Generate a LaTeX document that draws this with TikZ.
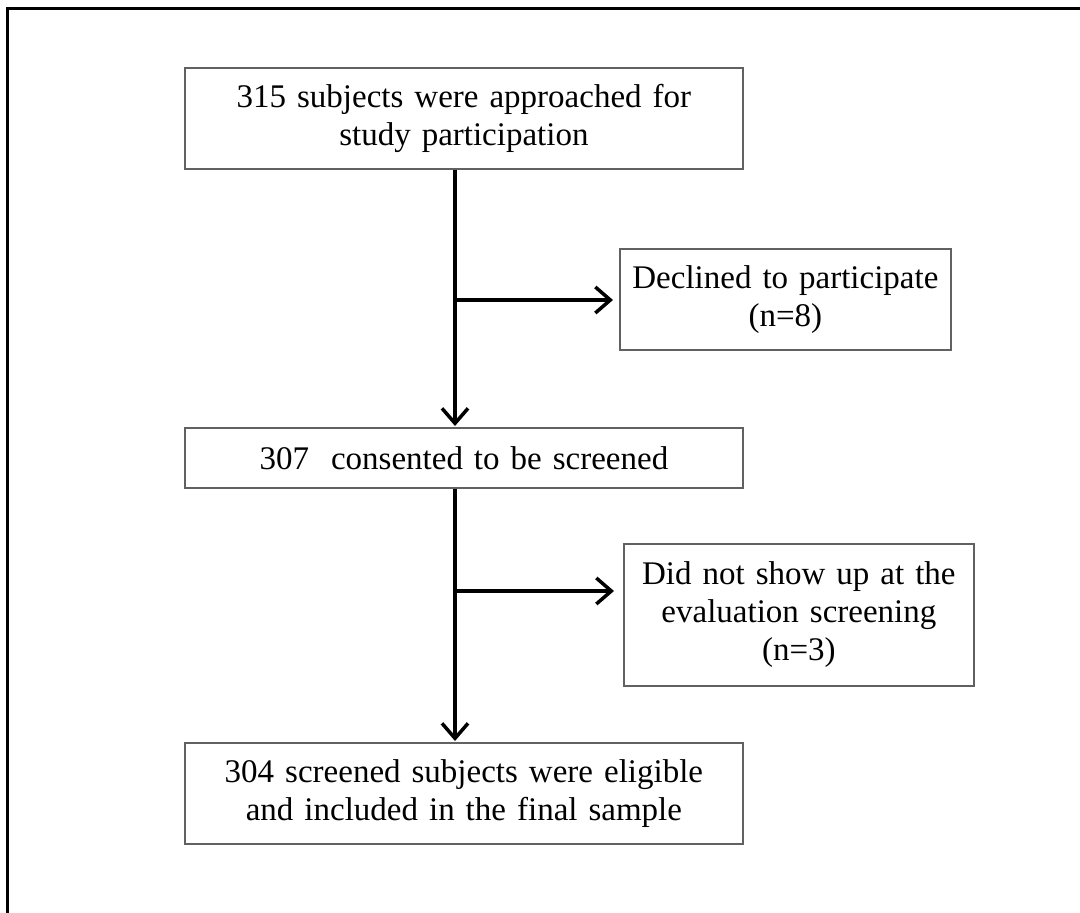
\documentclass[tikz,border=0pt]{standalone}
\usepackage{fontspec}
\setmainfont{Liberation Serif}
\usetikzlibrary{arrows.meta}
\begin{document}
\begin{tikzpicture}[x=1pt,y=-1pt,
  box/.style={draw=black!62, line width=1.8pt, inner sep=0pt, anchor=north west,
    align=center, font=\fontsize{33}{38}\selectfont},
  conn/.style={draw=black, line width=3.5pt, line cap=butt,
    -{Straight Barb[length=15pt,width=26pt,line width=3.5pt]}},
  frame/.style={draw=black, line width=2.6pt}]
\useasboundingbox (0,0) rectangle (1080,913);
% outer frame (top and left edges)
\coordinate (fbl) at (7.5,913);
\coordinate (fc) at (7.5,8.5);
\coordinate (ftr) at (1080,8.5);
\draw[frame] (fbl) -- (fc) -- (ftr);
% boxes
\node[box, text width=558pt, minimum height=101pt] (b1) at (184,67)
  {315 subjects were approached for\\study participation};
\node[box, text width=331pt, minimum height=101pt] (b2) at (619,248)
  {Declined to participate\\(n=8)};
\node[box, text width=558pt, minimum height=60pt] (b3) at (184,427)
  {307~ consented to be screened};
\node[box, text width=350pt, minimum height=142pt] (b4) at (623,543)
  {Did not show up at the\\evaluation screening\\(n=3)};
\node[box, text width=558pt, minimum height=101pt] (b5) at (184,742)
  {304 screened subjects were eligible\\and included in the final sample};
% spine and branches
\coordinate (v) at (455,0);
\coordinate (j1) at (455,300);
\coordinate (j2) at (455,591);
\draw[conn, shorten >=1pt] (b1.south -| v) -- (b3.north -| v);
\draw[conn, shorten >=1pt] (b3.south -| v) -- (b5.north -| v);
\draw[conn, shorten >=6pt] (j1) -- (j1 -| b2.west);
\draw[conn, shorten >=9pt] (j2) -- (j2 -| b4.west);
\end{tikzpicture}
\end{document}
